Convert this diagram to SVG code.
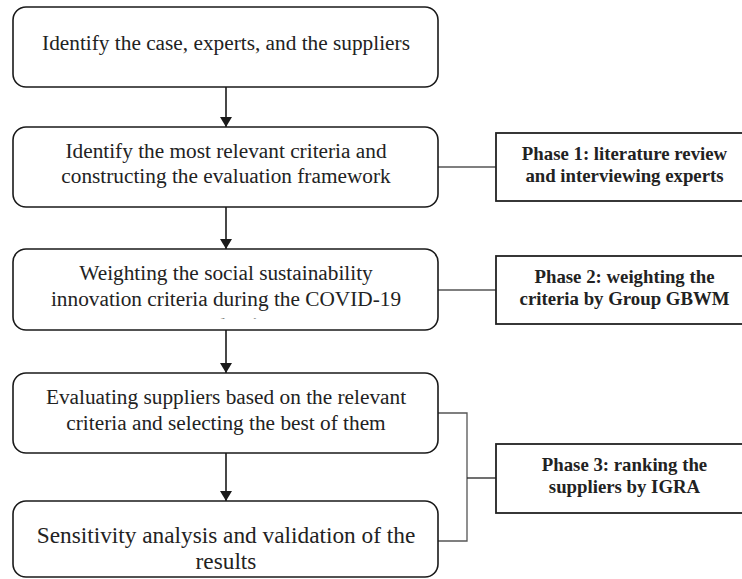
<svg xmlns="http://www.w3.org/2000/svg" width="742" height="579" viewBox="0 0 742 579">
<defs>
<style>
.box{fill:#fff;stroke:#1a1a1a;stroke-width:1.6}
.phase{fill:#fff;stroke:#222;stroke-width:1.8}
.t{font-family:"Liberation Serif","Times New Roman",serif;font-size:21.3px;fill:#222;text-anchor:middle}
.t5{font-size:23.3px}
.pt{font-family:"Liberation Serif","Times New Roman",serif;font-size:18.8px;font-weight:bold;fill:#222;text-anchor:middle}
.arr{stroke:#1a1a1a;stroke-width:1.6;fill:none;marker-end:url(#ah)}
.ln{stroke:#555;stroke-width:1.3;fill:none}
.lnd{stroke:#222;stroke-width:1.3;fill:none}
</style>
<marker id="ah" viewBox="0 0 10 12" refX="10" refY="6" markerWidth="10" markerHeight="12" markerUnits="userSpaceOnUse" orient="auto">
<path d="M0,0 L10,6 L0,12 z" fill="#1a1a1a"/>
</marker>
<clipPath id="c3"><rect x="13" y="249" width="425" height="69.5"/></clipPath>
</defs>
<g id="connectors">
<line class="arr" x1="226" y1="87" x2="226" y2="127"/>
<line class="arr" x1="226" y1="207" x2="226" y2="249"/>
<line class="arr" x1="226" y1="330" x2="226" y2="373"/>
<line class="arr" x1="226" y1="453" x2="226" y2="501"/>
<line class="ln" x1="438" y1="167" x2="496" y2="167"/>
<line class="ln" x1="438" y1="290" x2="496" y2="290"/>
<polyline class="ln" points="438,413 467,413 467,541 438,541"/>
<line class="lnd" x1="467" y1="478" x2="496" y2="478"/>
</g>
<g id="n1">
<rect class="box" x="13" y="7" width="425" height="80" rx="13"/>
<text class="t" x="226" y="50">Identify the case, experts, and the suppliers</text>
</g>
<g id="n2">
<rect class="box" x="13" y="127" width="425" height="80" rx="13"/>
<text class="t" x="226" y="158">Identify the most relevant criteria and</text>
<text class="t" x="226" y="183">constructing the evaluation framework</text>
</g>
<g id="n3">
<rect class="box" x="13" y="249" width="425" height="81" rx="13"/>
<g clip-path="url(#c3)">
<text class="t" x="226" y="280">Weighting the social sustainability</text>
<text class="t" x="226" y="306">innovation criteria during the COVID-19</text>
<text class="t" x="226" y="332">pandemic</text>
</g>
</g>
<g id="n4">
<rect class="box" x="13" y="373" width="425" height="80" rx="13"/>
<text class="t" x="226" y="404">Evaluating suppliers based on the relevant</text>
<text class="t" x="226" y="430">criteria and selecting the best of them</text>
</g>
<g id="n5">
<rect class="box" x="13" y="501" width="425" height="76" rx="13"/>
<text class="t t5" x="226" y="543">Sensitivity analysis and validation of the</text>
<text class="t t5" x="226" y="569">results</text>
</g>
<g id="p1">
<rect class="phase" x="496" y="133" width="260" height="68"/>
<text class="pt" x="624.5" y="160">Phase 1: literature review</text>
<text class="pt" x="624.5" y="182">and interviewing experts</text>
</g>
<g id="p2">
<rect class="phase" x="496" y="256" width="260" height="68"/>
<text class="pt" x="624.5" y="283">Phase 2: weighting the</text>
<text class="pt" x="624.5" y="305">criteria by Group GBWM</text>
</g>
<g id="p3">
<rect class="phase" x="496" y="444" width="260" height="69"/>
<text class="pt" x="624.5" y="471">Phase 3: ranking the</text>
<text class="pt" x="624.5" y="493">suppliers by IGRA</text>
</g>
</svg>
